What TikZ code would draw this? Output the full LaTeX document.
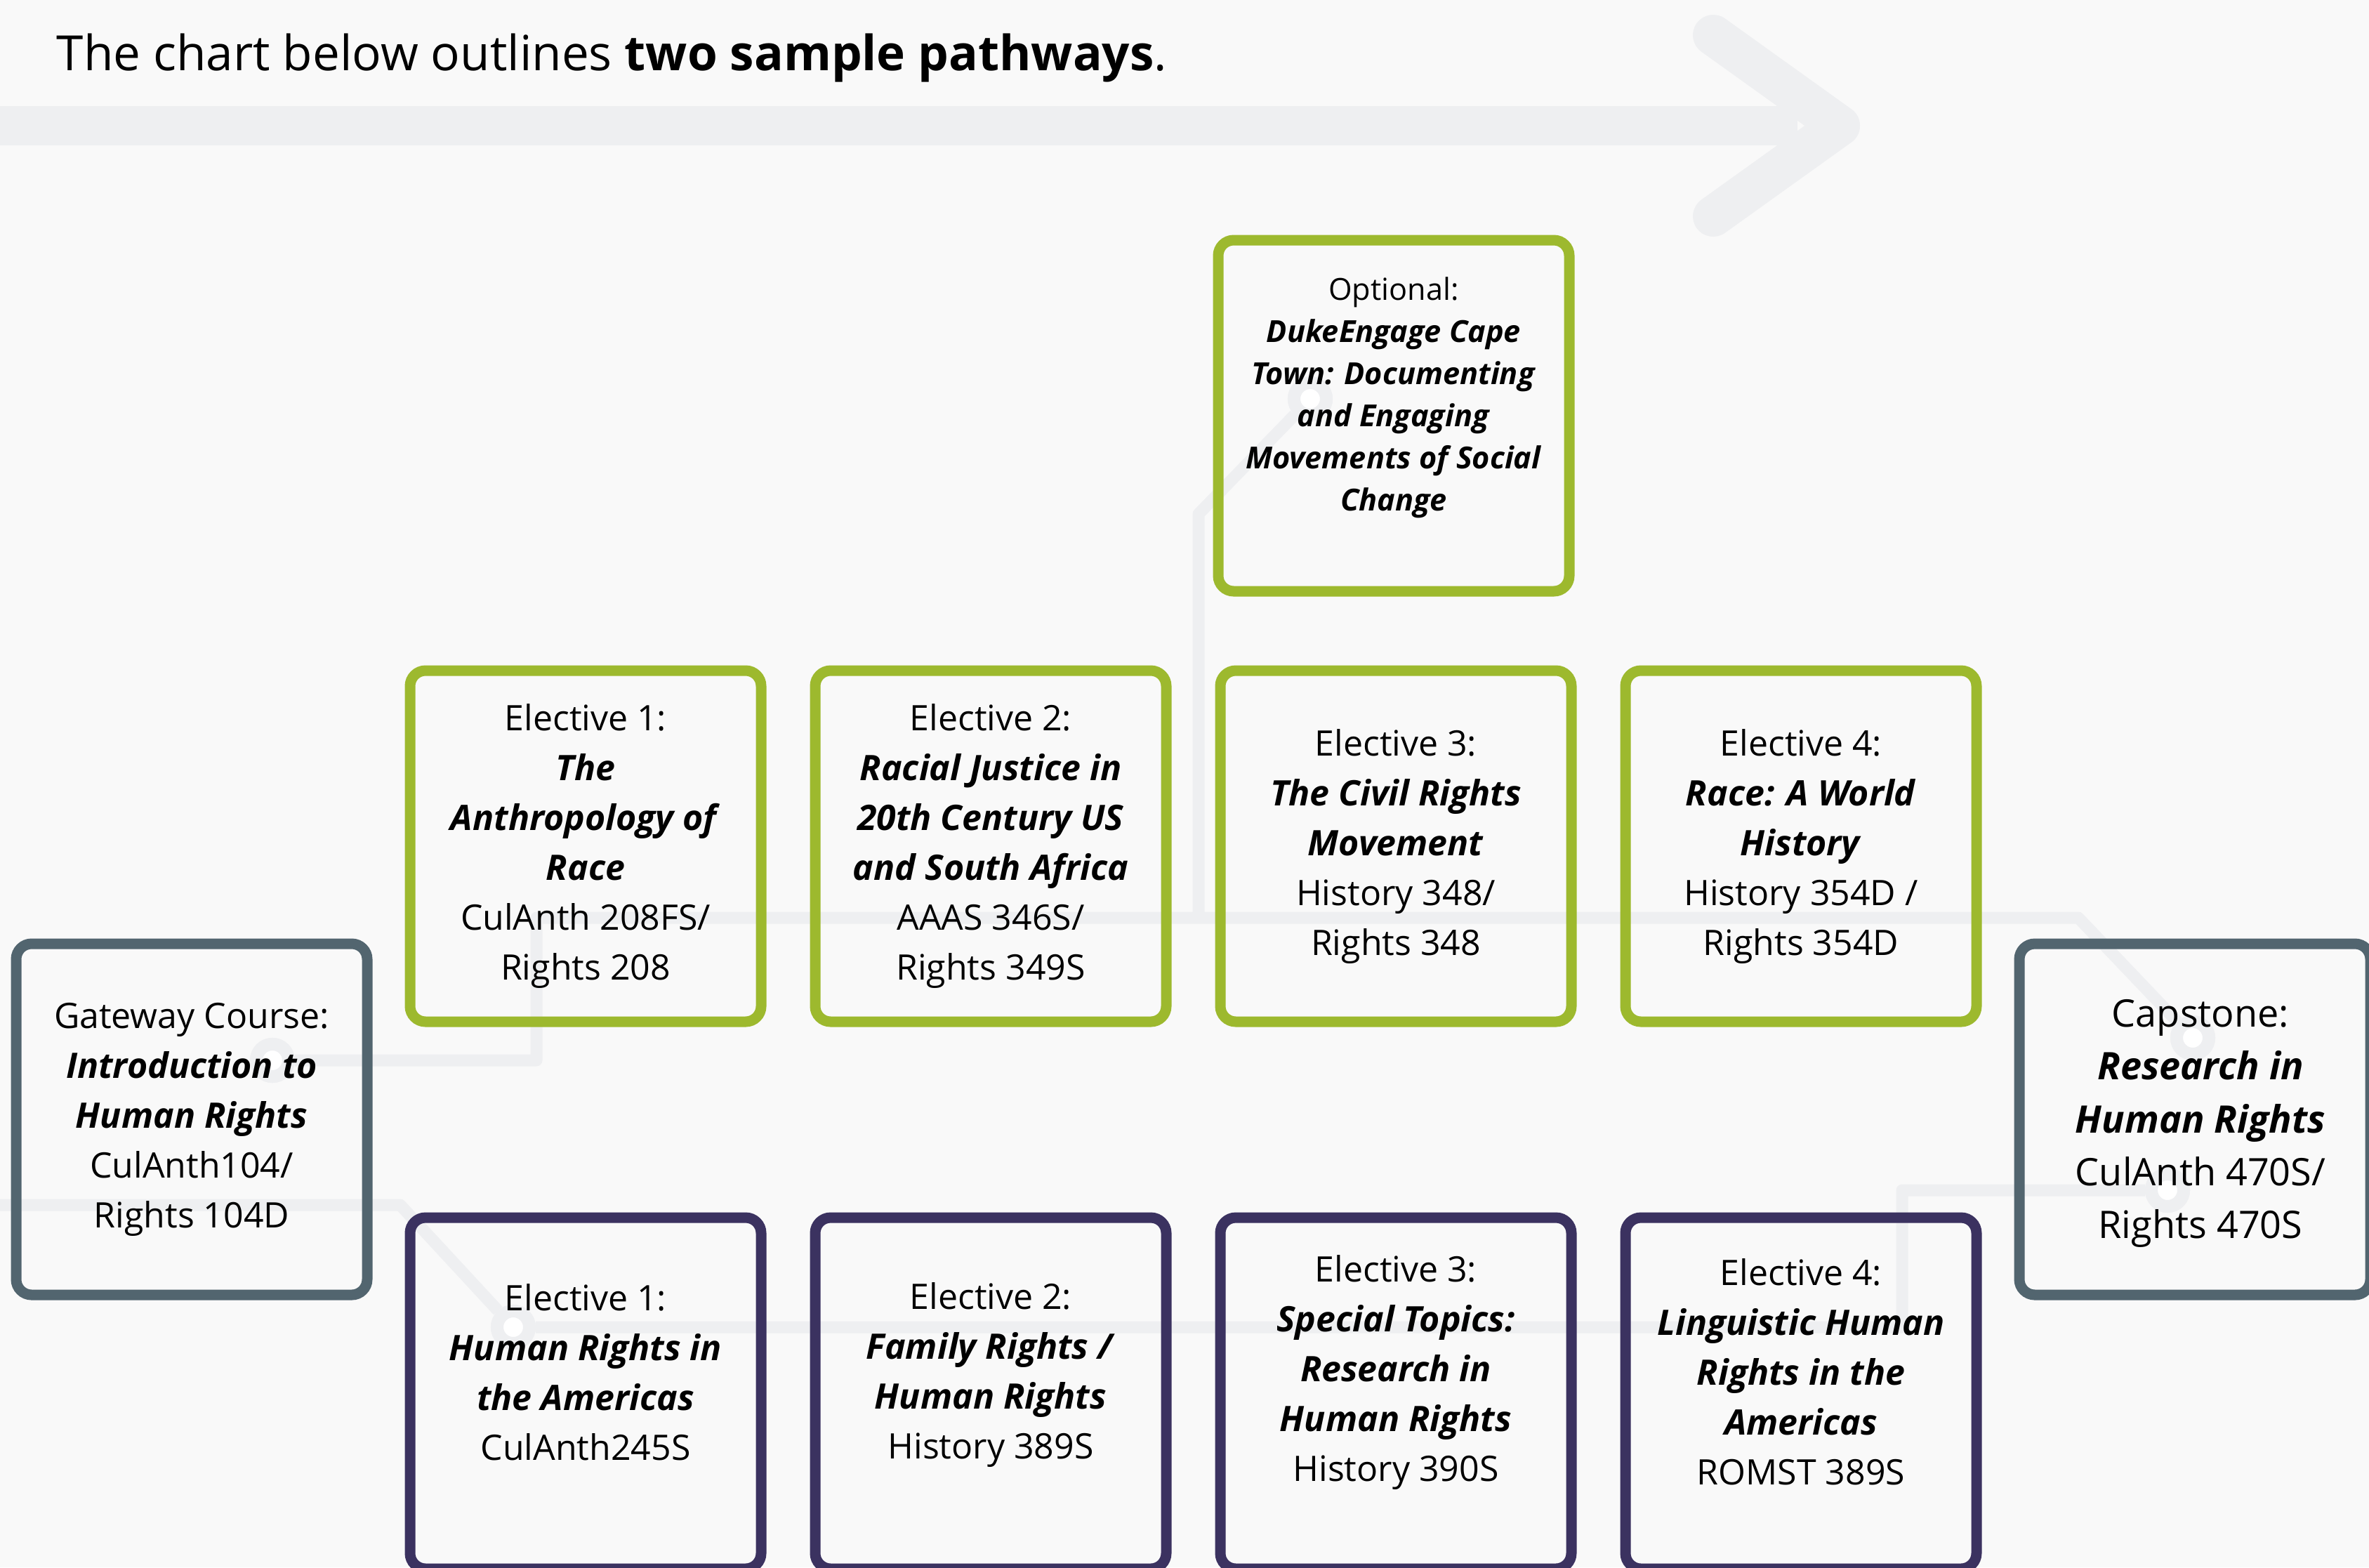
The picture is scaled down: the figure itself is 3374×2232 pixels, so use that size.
\documentclass[tikz,border=0pt]{standalone}
\usepackage{fontspec}
\setmainfont{Open Sans}
\definecolor{bggray}{HTML}{F9F9F9}
\definecolor{trackgray}{HTML}{EEEFF1}
\definecolor{pathgreen}{HTML}{9DB92E}
\definecolor{pathpurple}{HTML}{3B3260}
\definecolor{slate}{HTML}{52656F}
\tikzset{
	box/.style = {draw, rounded corners=5.5pt, line width=3.75pt,
		minimum width=125pt, minimum height=125pt, inner sep=0pt},
	greenbox/.style = {box, draw=pathgreen},
	purplebox/.style = {box, draw=pathpurple},
	slatebox/.style = {box, draw=slate},
	coursetext/.style = {align=center, inner sep=0pt,
		font=\fontsize{12.5}{17.75}\selectfont},
	track/.style = {draw=trackgray, line width=4.25pt, line join=round},
	ring/.style = {circle, draw=trackgray, fill=white, line width=4.5pt,
		minimum size=11.5pt, inner sep=0pt},
	bigarrow/.style = {draw=trackgray, line width=14pt}
}
\newcommand{\cname}[1]{\textbf{\textit{#1}}}

\begin{document}
\begin{tikzpicture}[x=0.25pt, y=-0.25pt]
	\fill[bggray] (0,0) rectangle (3374,2232);
	\useasboundingbox (0,0) rectangle (3374,2232);

	% timeline arrow
	\draw[bigarrow] (0,179) -- (2560,179);
	\draw[bigarrow, line width=14.5pt, line cap=round, line join=round]
		(2440,50) -- (2620,179) -- (2440,308);

	\node[anchor=base west, inner sep=0pt, font=\fontsize{17.3}{20}\selectfont] (title)
		at (80,100) {The chart below outlines \textbf{two sample pathways}.};

	% tracks behind the boxes
	\node[ring] (ringgate) at (388,1510) {};
	\node[ring] (ringcap) at (3123,1478) {};
	\node[ring] (ringlow) at (731,1890) {};
	\node[ring] (ringcaplow) at (3087,1695) {};
	\node[ring] (ringopt) at (1866,568) {};
	\coordinate (leftin) at (0,1716);
	\coordinate (branch) at (1707,1307);

	\draw[track] (ringgate) -- (764,1510) -- (764,1307) -- (2960,1307) -- (ringcap);
	\draw[track] (leftin) -- (570,1716) -- (ringlow) -- (2709,1890) -- (2709,1695) -- (ringcaplow);
	\draw[track] (branch) -- (1707,732) -- (ringopt);
	\foreach \r in {ringgate,ringcap,ringlow,ringcaplow,ringopt}
		\node[ring] at (\r) {};

	% boxes
	\node[slatebox] (gate) at (273,1594) {};
	\node[slatebox] (cap) at (3126,1594) {};
	\node[greenbox] (opt) at (1985,592) {};
	\node[greenbox] (g1) at (834,1205) {};
	\node[greenbox] (g2) at (1411,1205) {};
	\node[greenbox] (g3) at (1988,1205) {};
	\node[greenbox] (g4) at (2565,1205) {};
	\node[purplebox] (p1) at (834,1984) {};
	\node[purplebox] (p2) at (1411,1984) {};
	\node[purplebox] (p3) at (1988,1984) {};
	\node[purplebox] (p4) at (2565,1984) {};

	% texts
	\node[coursetext] (gatetxt) at (gate) {Gateway Course:\\\cname{Introduction to}\\\cname{Human Rights}\\CulAnth104/\\Rights 104D};
	\node[coursetext, font=\fontsize{13.5}{18.8}\selectfont, xshift=2pt, yshift=-1.5pt] (captxt) at (cap)
		{Capstone:\\\cname{Research in}\\\cname{Human Rights}\\CulAnth 470S/\\Rights 470S};
	\node[coursetext, font=\fontsize{10.8}{15}\selectfont, yshift=6.5pt] (opttxt) at (opt)
		{Optional:\\\cname{DukeEngage Cape}\\\cname{Town: Documenting}\\\cname{and Engaging}\\\cname{Movements of Social}\\\cname{Change}};
	\node[coursetext] (g1txt) at (g1) {Elective 1:\\\cname{The}\\\cname{Anthropology of}\\\cname{Race}\\CulAnth 208FS/\\Rights 208};
	\node[coursetext] (g2txt) at (g2) {Elective 2:\\\cname{Racial Justice in}\\\cname{20th Century US}\\\cname{and South Africa}\\AAAS 346S/\\Rights 349S};
	\node[coursetext] (g3txt) at (g3) {Elective 3:\\\cname{The Civil Rights}\\\cname{Movement}\\History 348/\\Rights 348};
	\node[coursetext] (g4txt) at (g4) {Elective 4:\\\cname{Race: A World}\\\cname{History}\\History 354D /\\Rights 354D};
	\node[coursetext, yshift=7.5pt] (p1txt) at (p1) {Elective 1:\\\cname{Human Rights in}\\\cname{the Americas}\\CulAnth245S};
	\node[coursetext, yshift=6.5pt] (p2txt) at (p2) {Elective 2:\\\cname{Family Rights /}\\\cname{Human Rights}\\History 389S};
	\node[coursetext, yshift=7.5pt] (p3txt) at (p3) {Elective 3:\\\cname{Special Topics:}\\\cname{Research in}\\\cname{Human Rights}\\History 390S};
	\node[coursetext, yshift=7.5pt] (p4txt) at (p4) {Elective 4:\\\cname{Linguistic Human}\\\cname{Rights in the}\\\cname{Americas}\\ROMST 389S};
\end{tikzpicture}
\end{document}
